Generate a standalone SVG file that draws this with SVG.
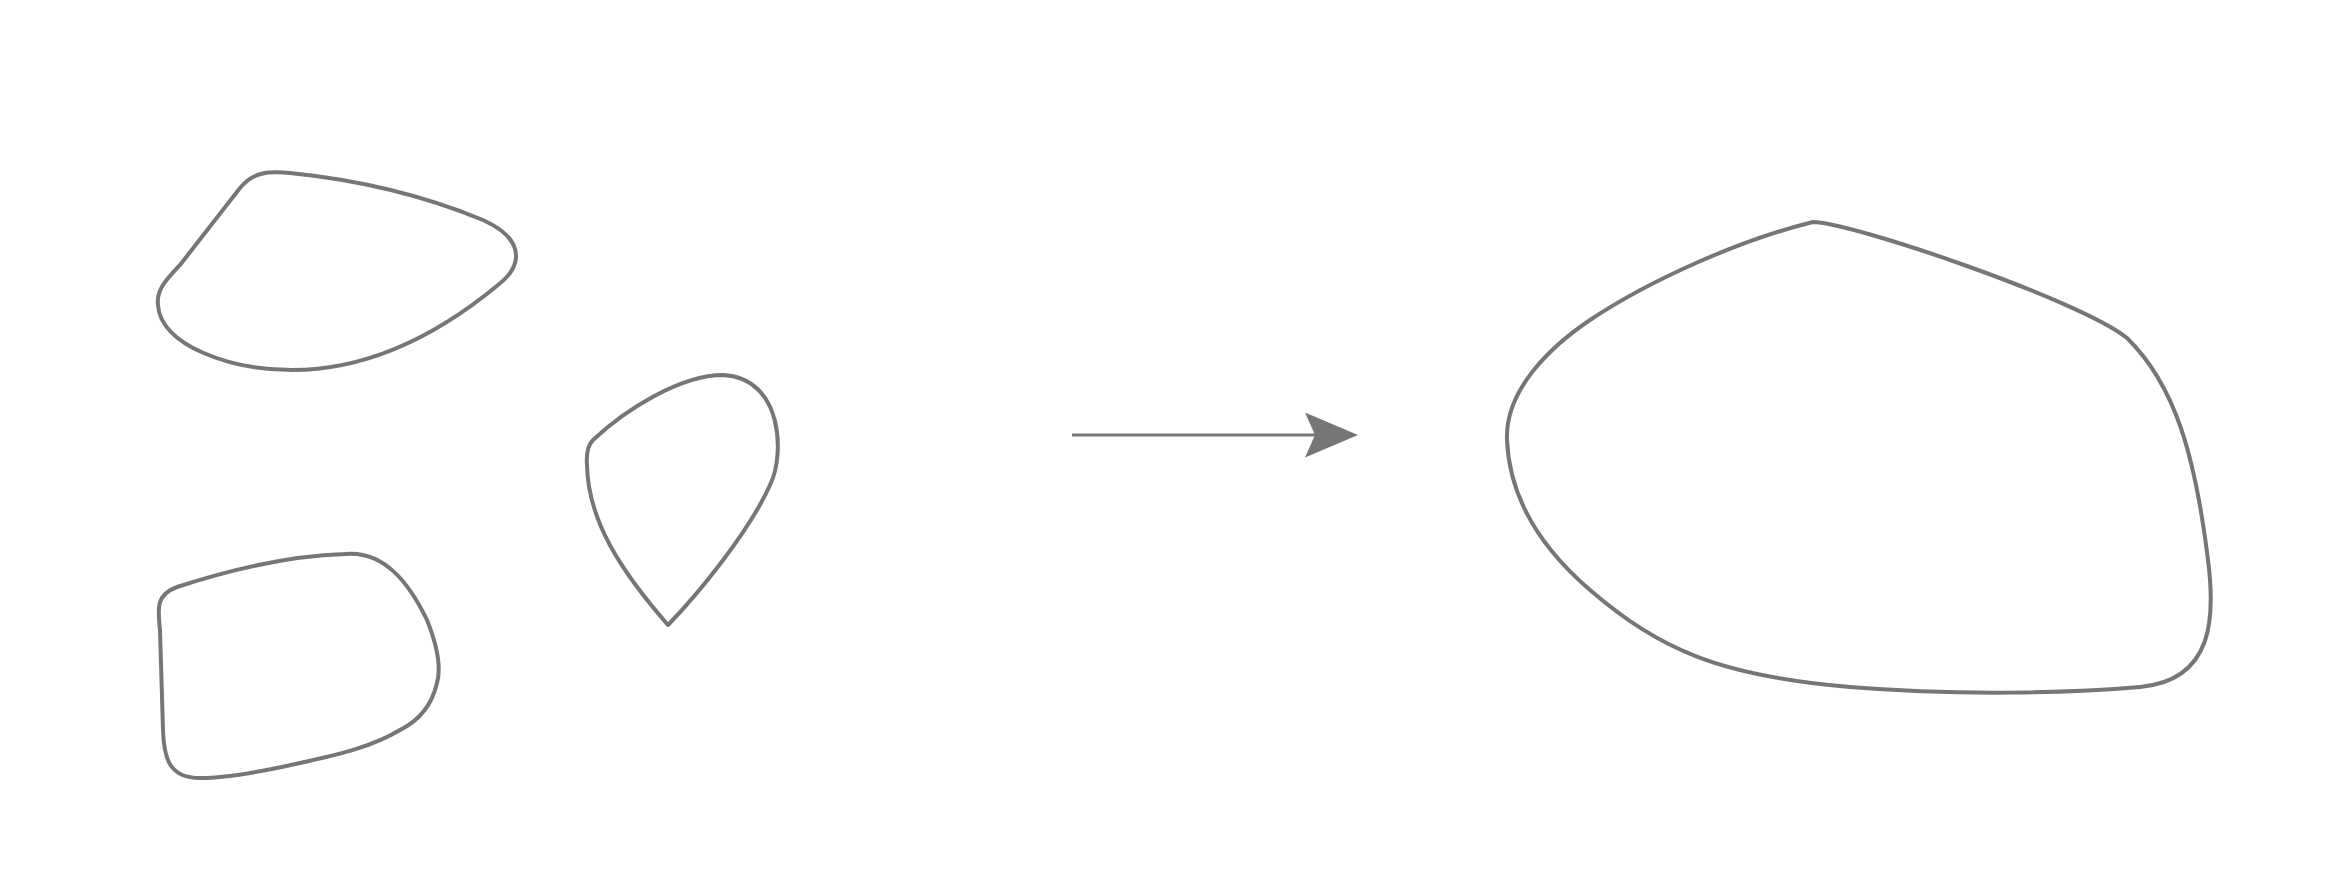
<svg xmlns="http://www.w3.org/2000/svg" width="2342" height="892" viewBox="0 0 2342 892">
  <style>
    .shape { fill: #ffffff; stroke: #767676; stroke-width: 4; stroke-linejoin: round; stroke-linecap: round; }
    .conn { fill: none; stroke: #767676; stroke-width: 3; }
  </style>
  <defs>
    <marker id="arrowhead" markerUnits="userSpaceOnUse" markerWidth="60" markerHeight="50" refX="10" refY="22.5" orient="auto">
      <path d="M 0 0 L 53 22.5 L 0 45 L 10 22.5 Z" fill="#767676"/>
    </marker>
  </defs>
  <rect width="2342" height="892" fill="#ffffff"/>
  <g id="shape-top-left">
    <path class="shape" d="M 240 188 C 253 172, 268 171, 290 173 C 360 180, 425 196, 483 220 C 505 230, 517 243, 516 258 C 515 270, 507 278, 498 285 C 440 333, 370 370, 292 370 C 230 370, 160 345, 158 305 C 156 290, 166 280, 180 265 Z"/>
  </g>
  <g id="shape-bottom-left">
    <path class="shape" d="M 177 587 C 220 573, 280 556, 345 554 C 385 550, 410 585, 427 620 C 435 640, 442 665, 437 683 C 432 705, 420 720, 400 730 C 370 748, 335 755, 300 763 C 260 772, 225 778, 200 778 C 170 778, 164 760, 163 730 L 160 630 C 158 610, 155 595, 177 587 Z"/>
  </g>
  <g id="shape-middle">
    <path class="shape" d="M 668 625 C 700 592, 750 530, 770 485 C 785 455, 783 378, 723 375 C 680 375, 625 410, 593 440 C 588 445, 586 452, 587 465 C 588 520, 620 570, 668 625 Z"/>
  </g>
  <g id="shape-right">
    <path class="shape" d="M 1813 222 C 1850 222, 2080 300, 2127 338 C 2175 385, 2195 455, 2208 560 C 2215 615, 2215 680, 2140 687 C 2070 693, 1960 696, 1850 687 C 1720 676, 1660 650, 1590 590 C 1555 560, 1510 510, 1507 440 C 1505 390, 1550 347, 1590 320 C 1650 280, 1740 240, 1813 222 Z"/>
  </g>
  <g id="connectors">
    <line class="conn" x1="1072" y1="435" x2="1315" y2="435" marker-end="url(#arrowhead)"/>
  </g>
</svg>
